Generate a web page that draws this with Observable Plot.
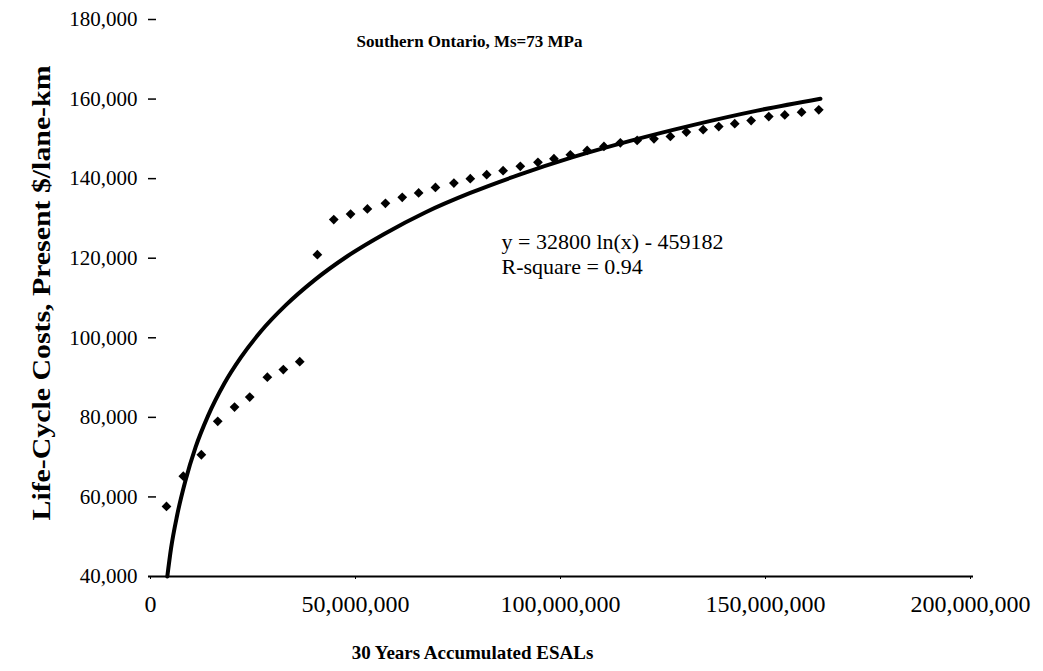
<!DOCTYPE html>
<html>
<head>
<meta charset="utf-8">
<script src="https://cdn.jsdelivr.net/npm/d3@7"></script>
<script src="https://cdn.jsdelivr.net/npm/@observablehq/plot@0.6"></script>
<style>
  html, body { margin: 0; padding: 0; background: #fff; }
  #chart { width: 1043px; height: 671px; }
</style>
</head>
<body>
<div id="chart"></div>
<script>
// ---- Data ----
const titleText = "Southern Ontario, Ms=73 MPa";
const xLabelText = "30 Years Accumulated ESALs";
const yLabelText = "Life-Cycle Costs, Present $/lane-km";
const equationText = "y = 32800 ln(x) - 459182\nR-square = 0.94";

const xTicks = [0, 50000000, 100000000, 150000000, 200000000];
const yTicks = [40000, 60000, 80000, 100000, 120000, 140000, 160000, 180000];

// observed points (accumulated ESALs, millions) and life-cycle costs
const esalM = [3.9, 8.0, 12.4, 16.4, 20.5, 24.2, 28.5, 32.4, 36.4, 40.7,
               44.7, 48.8, 52.9, 57.3, 61.4, 65.4, 69.5, 74.0, 78.0, 82.0,
               86.0, 90.2, 94.5, 98.4, 102.4, 106.5, 110.6, 114.6, 118.7, 122.8,
               126.8, 130.7, 134.8, 138.6, 142.5, 146.5, 150.8, 154.7, 158.8, 163.0];
const cost = [57600, 65200, 70600, 79000, 82600, 85100, 90100, 92000, 94000, 120900,
              129700, 131100, 132400, 133800, 135300, 136400, 137800, 138900, 140000, 141000,
              142000, 143100, 144100, 145000, 146000, 147100, 148100, 149000, 149600, 150000,
              150600, 151700, 152300, 153100, 153800, 154600, 155600, 156000, 156700, 157300];

// fitted trend curve
const fitEsalM = [4.1, 5.0, 6.5, 8.5, 11, 14, 18, 22, 27, 33,
                  40, 48, 57, 67, 78, 90, 103, 117, 132, 148, 163.4];
const fitCost = [40000, 47000, 55400, 64000, 72500, 80300, 88500, 95000, 101700, 108200,
                 114500, 120500, 126100, 131500, 136400, 141000, 145400, 149500, 153400, 157100, 160100];

const points = esalM.map((e, i) => ({esal: e * 1e6, cost: cost[i]}));
const fit = fitEsalM.map((e, i) => ({esal: e * 1e6, cost: fitCost[i]}));

const fmt = d3.format(",");

const chart = Plot.plot({
  width: 1043,
  height: 671,
  marginLeft: 150,
  marginRight: 73,
  marginTop: 19,
  marginBottom: 95,
  style: {fontFamily: "'Liberation Serif', 'Times New Roman', serif", background: "#fff", color: "#000"},
  x: {domain: [0, 200000000]},
  y: {domain: [40000, 180000]},
  marks: [
    Plot.axisY(yTicks, {tickSize: 0, tickPadding: 13, fontSize: 21, tickFormat: fmt, label: null}),
    Plot.ruleY(yTicks.slice(1), {insetLeft: -2, insetRight: 814, stroke: "#000", strokeWidth: 1.5}),
    Plot.axisX(xTicks, {tickSize: 3, tickPadding: 15, fontSize: 24, tickFormat: fmt, label: null}),
    Plot.ruleY([40000], {insetLeft: -2, insetRight: -3, stroke: "#000", strokeWidth: 2}),
    Plot.line(fit, {x: "esal", y: "cost", curve: "monotone-x", stroke: "#000", strokeWidth: 4}),
    Plot.dot(points, {x: "esal", y: "cost", symbol: "diamond2", r: 4.4, fill: "#000", stroke: "none"}),
    Plot.text([titleText], {text: d => d, frameAnchor: "top", dx: -91, dy: 22, fontSize: 17, fontWeight: "bold", lineAnchor: "middle"}),
    Plot.text([equationText], {text: d => d, frameAnchor: "top-left", textAnchor: "start", dx: 351, dy: 234, fontSize: 22, lineHeight: 1.12, lineAnchor: "middle"}),
    Plot.text([xLabelText], {text: d => d, frameAnchor: "bottom", dx: -88, dy: 76, fontSize: 19, fontWeight: "bold", lineAnchor: "middle"}),
    Plot.text([yLabelText], {text: d => d, frameAnchor: "left", textAnchor: "middle", rotate: -90, dx: -109, dy: -5, fontSize: 25, fontWeight: "bold", lineAnchor: "middle", className: "ylab"})
  ]
});

// stretch the y-axis title to the length it has in the reference
d3.select(chart).selectAll("g.ylab text, .ylab text")
  .attr("textLength", 455)
  .attr("lengthAdjust", "spacingAndGlyphs");

document.getElementById("chart").appendChild(chart);
</script>
</body>
</html>
